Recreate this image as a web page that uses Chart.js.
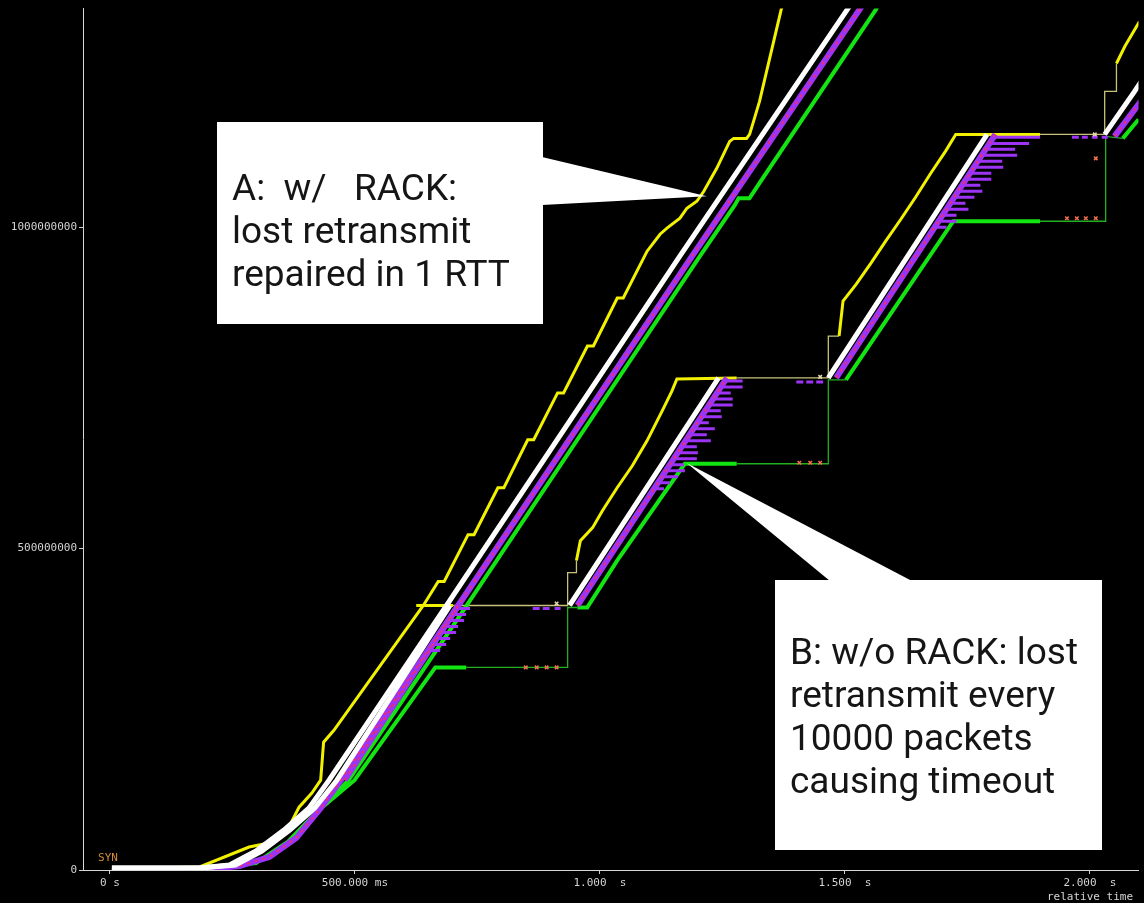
<!DOCTYPE html>
<html>
<head>
<meta charset="utf-8">
<script src="https://cdn.jsdelivr.net/npm/chart.js@4.4.1/dist/chart.umd.min.js"></script>
<style>
  html, body { margin: 0; padding: 0; background: #000; }
  canvas { display: block; }
</style>
</head>
<body>
<canvas id="seq" width="1144" height="903"></canvas>
<script>
// Time-sequence graph: x = relative time (s), y = sequence number (MB, shown as bytes)
const xTickValues = [0, 0.5, 1.0, 1.5, 2.0];
const xTickLabels = ['0 s', '500.000 ms', '1.000  s', '1.500  s', ['2.000  s', 'relative time']];
const yTickValues = [0, 500, 1000];
const yTickLabels = ['0', '500000000', '1000000000'];

// Flow A (with RACK): data sent, SACKed, ACKed, receive window
const sentA = [[0.004,3.1],[0.183,3.1],[0.244,7.8],[0.298,29.5],[0.355,62.1],[0.406,96.3],[0.447,139.7],[0.680,403.7],[1.163,955.0],[1.506,1340.1],[1.543,1382.0]];
const sackA = [[0.183,0],[0.264,6.2],[0.325,20.2],[0.380,49.7],[0.430,96.3],[0.471,139.7],[0.704,403.7],[1.188,955.0],[1.531,1340.1],[1.563,1374.2]];
const ackA = [[0.081,0],[0.183,1.6],[0.298,10.9],[0.365,45.0],[0.426,93.2],[0.487,139.7],[0.721,403.7],[1.204,955.0],[1.275,1034.2],[1.283,1045.0],[1.305,1045.0],[1.332,1076.1],[1.563,1338.5],[1.583,1366.5]];
const rwndA = [[0.004,1.6],[0.183,4.7],[0.284,35.7],[0.325,41.9],[0.359,57.5],[0.386,97.8],[0.412,119.6],[0.430,139.7],[0.436,198.8],[0.457,217.4],
  [0.6395,411.5],[0.6699,448.8],[0.6821,448.8],[0.7308,521.7],[0.7430,521.7],[0.7917,594.7],[0.8039,594.7],[0.8526,669.3],[0.8648,669.3],
  [0.9135,742.2],[0.9257,742.2],[0.9744,815.2],[0.9866,815.2],[1.0353,889.8],[1.0475,889.8],[1.0962,962.7],[1.1226,989.1],[1.1368,998.5],
  [1.1632,1014.0],[1.1774,1029.5],[1.1977,1040.4],[1.2119,1055.9],[1.2383,1091.6],[1.2647,1133.5],[1.2728,1138.2],[1.2992,1138.2],
  [1.3053,1144.4],[1.3134,1164.6],[1.3256,1195.7],[1.3703,1340.1],[1.3845,1363.4]];

// Flow B (without RACK): null separates the bursts between timeouts
const sentB = [[0.004,3.1],[0.183,3.1],[0.256,7.8],[0.310,29.5],[0.367,62.1],[0.418,96.3],[0.463,139.7],[0.694,411.5],null,[0.938,411.5],[1.242,765.5],null,[1.466,765.5],[1.790,1144.4],null,[2.030,1144.4],[2.091,1211.2],[2.111,1234.5]];
const sackB = [[0.479,139.7],[0.711,411.5],null,[0.954,411.5],[1.259,765.5],null,[1.482,765.5],[1.807,1144.4],null,[2.050,1141.3],[2.111,1203.4]];
const ackB = [[0.365,45.0],[0.426,93.2],[0.499,139.7],[0.664,315.2],[0.727,315.2],null,[0.954,408.4],[0.974,408.4],[1.035,481.4],[1.173,632.0],[1.279,632.0],null,[1.502,762.4],[1.721,1009.3],[1.898,1009.3],null,[2.067,1138.2],[2.099,1167.7],[2.111,1180.1]];
const ackBStall = [[0.727,315.2],[0.934,315.2],[0.934,408.4],[0.954,408.4],null,[1.279,632.0],[1.466,632.0],[1.466,762.4],[1.502,762.4],null,[1.898,1009.3],[2.032,1009.3],[2.032,1141.3],[2.067,1138.2]];
const rwndB = [[0.625,411.5],[0.700,411.5],null,[0.952,481.4],[0.960,512.4],[0.985,532.6],[1.005,559.0],[1.035,594.7],[1.066,628.9],[1.096,667.7],[1.127,714.3],[1.147,745.3],[1.157,764.0],[1.279,765.5],null,[1.488,830.7],[1.496,885.1],[1.523,911.5],[1.553,944.1],[1.583,978.3],[1.614,1012.4],[1.644,1046.6],[1.675,1083.9],[1.705,1118.0],[1.726,1144.4],[1.898,1144.4],null,[2.054,1254.7],[2.071,1281.1],[2.101,1319.9]];
const rwndBStall = [[0.700,411.5],[0.934,411.5],[0.934,462.7],[0.952,462.7],[0.952,481.4],null,[1.279,765.5],[1.466,765.5],[1.466,830.7],[1.488,830.7],null,[1.898,1144.4],[2.030,1144.4],[2.030,1211.2],[2.054,1211.2],[2.054,1254.7]];

// SACK blocks of flow B: [start time, end time, sequence]
const sackBlocksB = [
  [0.7065,0.7349,406.8],[0.6983,0.7268,397.5],[0.6902,0.7227,388.2],[0.6821,0.7105,378.9],
  [0.6740,0.7065,369.6],[0.6679,0.6943,360.2],[0.6598,0.6862,350.9],[0.6516,0.6740,341.6],
  [0.8628,0.8770,406.8],[0.8831,0.8973,406.8],[0.9074,0.9196,406.8],
  [1.2546,1.2911,760.9],[1.2465,1.2911,751.6],[1.2383,1.2668,742.2],[1.2302,1.2708,732.9],
  [1.2221,1.2708,723.6],[1.2140,1.2465,714.3],[1.2059,1.2485,705.0],[1.1977,1.2221,695.7],
  [1.1896,1.2343,686.3],[1.1815,1.2180,677.0],[1.1754,1.2262,667.7],[1.1673,1.1977,658.4],
  [1.1592,1.1998,649.1],[1.1510,1.1977,639.8],[1.1429,1.1713,630.4],[1.1348,1.1734,621.1],
  [1.1267,1.1592,611.8],[1.1186,1.1429,602.5],[1.1104,1.1307,593.2],
  [1.4007,1.4149,759.3],[1.4210,1.4352,759.3],[1.4413,1.4555,759.3],
  [1.8027,1.8981,1139.8],[1.7946,1.8758,1130.4],[1.7864,1.8473,1121.1],[1.7783,1.8514,1111.8],
  [1.7702,1.8209,1102.5],[1.7621,1.8230,1093.2],[1.7540,1.7986,1083.9],[1.7458,1.7986,1074.5],
  [1.7398,1.7763,1065.2],[1.7316,1.7804,1055.9],[1.7235,1.7641,1046.6],[1.7154,1.7458,1037.3],
  [1.7073,1.7519,1028.0],[1.6991,1.7276,1018.6],[1.6910,1.7276,1009.3],[1.6829,1.7073,1000.0],
  [1.9631,1.9773,1139.8],[1.9834,1.9955,1139.8],[2.0037,2.0158,1139.8],[2.0240,2.0362,1139.8]
];

// Retransmissions sent while the ACK line is stalled
const retransB = [[0.8486,315.2],[0.8709,315.2],[0.8912,315.2],[0.9115,315.2],
  [1.4068,633.5],[1.4291,633.5],[1.4494,633.5],
  [1.9529,1014.0],[1.9732,1014.0],[1.9915,1014.0],[2.0118,1014.0],[2.0118,1107.1]];
const probeB = [[0.9115,414.6],[1.4494,767.1],[2.0098,1144.4]];

const toPts = arr => {
  let lastX = 0;
  return arr.map(p => {
    if (p === null) return { x: lastX, y: null };
    lastX = p[0];
    return { x: p[0], y: p[1] };
  });
};
const blocksToPts = arr => {
  const out = [];
  arr.forEach(([t0, t1, v]) => { out.push({x: t0, y: v}, {x: t1, y: v}, {x: t1, y: null}); });
  return out;
};

const line = (data, color, width, extra) => Object.assign({
  data: toPts(data), showLine: true, borderColor: color, backgroundColor: color,
  borderWidth: width, pointRadius: 0, spanGaps: false, clip: 0,
  borderJoinStyle: 'miter', borderCapStyle: 'butt', tension: 0
}, extra || {});

const WHITE = '#ffffff', YELLOW = '#f2f200', GREEN = '#12e512', PURPLE = '#9d34f5', RED = '#ff2a55';

const datasets = [
  { data: toPts(retransB), showLine: false, pointStyle: 'crossRot', pointRadius: 2.5, borderWidth: 1.5, borderColor: '#f07050', clip: 0 },
  { data: toPts(probeB), showLine: false, pointStyle: 'crossRot', pointRadius: 2.5, borderWidth: 1.5, borderColor: '#e8d8b0', clip: 0 },
  line(sentA, WHITE, 5),
  line(sentB, WHITE, 5),
  line(sackA, RED, 1.5, { borderDash: [3, 5] }),
  line(sackB, RED, 1.5, { borderDash: [3, 5] }),
  line(sackA, PURPLE, 6),
  line(sackB, PURPLE, 6),
  Object.assign(line([], PURPLE, 3), { data: blocksToPts(sackBlocksB) }),
  line(ackA, GREEN, 4),
  line(ackB, GREEN, 4),
  line(rwndA, YELLOW, 3),
  line(rwndB, YELLOW, 3),
  line(ackBStall, '#22b022', 1.3),
  line(rwndBStall, '#c8c27a', 1.3)
];

// Callout boxes and the SYN marker
const annotations = {
  id: 'annotations',
  afterDatasetsDraw(chart) {
    const { ctx, scales: { x, y } } = chart;
    ctx.save();
    // SYN label at connection start
    ctx.fillStyle = '#d58c3e';
    ctx.font = '11px "DejaVu Sans Mono", monospace';
    ctx.textAlign = 'center';
    ctx.textBaseline = 'middle';
    ctx.fillText('SYN', x.getPixelForValue(0) - 2, y.getPixelForValue(0) - 12);

    const drawCallout = (box, base1, base2, tip, lines, firstBaseline) => {
      ctx.fillStyle = '#ffffff';
      ctx.beginPath();
      ctx.moveTo(base1[0], base1[1]);
      ctx.lineTo(base2[0], base2[1]);
      ctx.lineTo(tip[0], tip[1]);
      ctx.closePath();
      ctx.fill();
      ctx.fillRect(box[0], box[1], box[2], box[3]);
      ctx.fillStyle = '#151515';
      ctx.font = '37px Roboto, "Open Sans", sans-serif';
      ctx.textAlign = 'left';
      ctx.textBaseline = 'alphabetic';
      lines.forEach((s, i) => ctx.fillText(s, box[0] + 15, firstBaseline + i * 43));
    };
    const tipA = [x.getPixelForValue(1.218), y.getPixelForValue(1048)];
    const tipB = [x.getPixelForValue(1.177), y.getPixelForValue(633)];
    drawCallout([217, 122, 326, 202], [542, 157], [542, 205], tipA,
      ['A:  w/   RACK:', 'lost retransmit', 'repaired in 1 RTT'], 200);
    drawCallout([775, 580, 327, 270], [830, 581], [912, 581], tipB,
      ['B: w/o RACK: lost', 'retransmit every', '10000 packets', 'causing timeout'], 664);
    ctx.restore();
  }
};

const axisFont = { family: '"DejaVu Sans Mono", "Liberation Mono", monospace', size: 11 };

new Chart(document.getElementById('seq'), {
  type: 'scatter',
  data: { datasets },
  options: {
    responsive: false,
    animation: false,
    devicePixelRatio: 1,
    layout: { padding: { top: 7, right: 0, left: 0, bottom: 0 } },
    plugins: { legend: { display: false }, tooltip: { enabled: false } },
    scales: {
      x: {
        type: 'linear', min: -0.055, max: 2.099,
        afterBuildTicks: s => { s.ticks = xTickValues.map(v => ({ value: v })); },
        afterFit: s => { s.height = 33; },
        ticks: {
          autoSkip: false, maxRotation: 0, padding: 3, color: '#d4d4d4', font: axisFont,
          callback: (v) => { const i = xTickValues.indexOf(v); return i >= 0 ? xTickLabels[i] : ''; }
        },
        grid: { drawOnChartArea: false, drawTicks: true, tickLength: 4, color: '#d0d0d0' },
        border: { display: true, color: '#d8d8d8', width: 1 }
      },
      y: {
        type: 'linear', min: 0, max: 1340.1,
        afterBuildTicks: s => { s.ticks = yTickValues.map(v => ({ value: v })); },
        afterFit: s => { s.width = 83; },
        ticks: {
          padding: 2, color: '#d4d4d4', font: axisFont,
          callback: (v) => { const i = yTickValues.indexOf(v); return i >= 0 ? yTickLabels[i] : ''; }
        },
        grid: { drawOnChartArea: false, drawTicks: true, tickLength: 4, color: '#d0d0d0' },
        border: { display: true, color: '#d8d8d8', width: 1 }
      }
    }
  },
  plugins: [annotations]
});
</script>
</body>
</html>
